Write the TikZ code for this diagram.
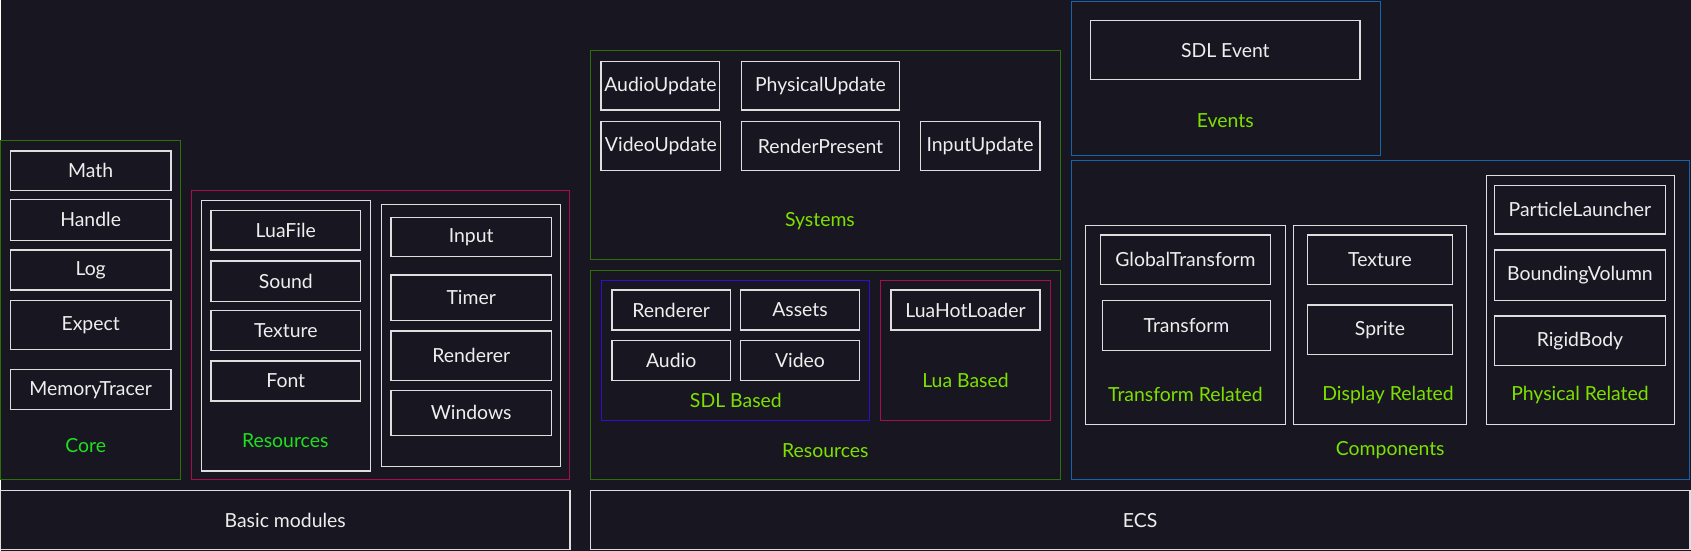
\documentclass[tikz,border=0pt]{standalone}
\usepackage{fontspec}
\setmainfont{Lato}
\usepackage{tikz}
\usetikzlibrary{fit,positioning}
\definecolor{bgdark}{RGB}{24,22,32}
\definecolor{boxline}{RGB}{222,222,222}
\definecolor{boxtext}{RGB}{238,238,238}
\definecolor{grpgreen}{RGB}{45,112,10}
\definecolor{grpred}{RGB}{165,15,75}
\definecolor{grpblue}{RGB}{22,100,170}
\definecolor{grppurple}{RGB}{55,12,200}
\definecolor{lblgreen}{RGB}{30,225,30}
\definecolor{lblyellow}{RGB}{125,225,0}
\tikzset{
  mod_box/.style = {draw=boxline, line width=1.2pt, inner sep=0pt},
  mod_txt/.style = {text=boxtext, inner sep=0pt, font=\fontsize{18}{20}\selectfont},
  grp_box/.style = {draw=boxline, line width=1.2pt, inner sep=0pt},
  grp_g/.style = {draw=grpgreen, line width=1pt, inner sep=0pt},
  grp_r/.style = {draw=grpred, line width=1pt, inner sep=0pt},
  grp_b/.style = {draw=grpblue, line width=1pt, inner sep=0pt},
  grp_p/.style = {draw=grppurple, line width=1pt, inner sep=0pt},
  lbl_g/.style = {text=lblgreen, font=\fontsize{18}{20}\selectfont},
  lbl_y/.style = {text=lblyellow, font=\fontsize{18}{20}\selectfont}
}

\begin{document}
\begin{tikzpicture}[x=1pt, y=-1pt]
  \fill[bgdark] (0,0) rectangle (1568,511);

  % basic modules
  \node[grp_g, fit={(0,130) (167,445)}] (core) {};
  \node[mod_box, fit={(9,140) (158,177)}, label={[mod_txt]center:Math}] (math) {};
  \node[mod_box, fit={(9,185) (158,223)}, label={[mod_txt]center:Handle}] (handle) {};
  \node[mod_box, fit={(9,232) (158,269)}, label={[mod_txt]center:Log}] (log) {};
  \node[mod_box, fit={(9,279) (158,324)}, label={[mod_txt]center:Expect}] (expect) {};
  \node[mod_box, fit={(9,343) (158,380)}, label={[mod_txt]center:MemoryTracer}] (memtracer) {};
  \node[lbl_g] (core_lbl) at (79,413) {Core};

  \node[grp_r, fit={(177,177) (528,445)}] (res) {};
  \node[grp_box, fit={(186,186) (343,437)}] (res_l) {};
  \node[mod_box, fit={(195,195) (334,232)}, label={[mod_txt]center:LuaFile}] (luafile) {};
  \node[mod_box, fit={(195,242) (334,280)}, label={[mod_txt]center:Sound}] (sound) {};
  \node[mod_box, fit={(195,288) (334,325)}, label={[mod_txt]center:Texture}] (texture) {};
  \node[mod_box, fit={(195,335) (334,372)}, label={[mod_txt]center:Font}] (font) {};
  \node[lbl_g] (res_lbl) at (264,409) {Resources};
  \node[grp_box, fit={(353,190) (519,433)}] (res_r) {};
  \node[mod_box, fit={(362,202) (511,238)}, label={[mod_txt]center:Input}] (input) {};
  \node[mod_box, fit={(362,255) (511,297)}, label={[mod_txt]center:Timer}] (timer) {};
  \node[mod_box, fit={(362,307) (511,353)}, label={[mod_txt]center:Renderer}] (renderer) {};
  \node[mod_box, fit={(362,362) (511,404)}, label={[mod_txt]center:Windows}] (windows) {};

  \node[mod_box, fit={(0,455) (528,510)}, label={[mod_txt]center:Basic modules}] (basic) {};

  % ecs
  \node[grp_g, fit={(547,47) (983,241)}] (systems) {};
  \node[mod_box, fit={(557,57) (667,102)}, label={[mod_txt]center:AudioUpdate}] (audio_up) {};
  \node[mod_box, fit={(687,57) (834,102)}, label={[mod_txt]center:PhysicalUpdate}] (phys_up) {};
  \node[mod_box, fit={(557,113) (668,158)}, label={[mod_txt]center:VideoUpdate}] (video_up) {};
  \node[mod_box, fit={(687,113) (834,158)}, label={[mod_txt]center:RenderPresent}] (render_pr) {};
  \node[mod_box, fit={(853,113) (964,158)}, label={[mod_txt]center:InputUpdate}] (input_up) {};
  \node[lbl_y] (sys_lbl) at (760,205) {Systems};

  \node[grp_g, fit={(547,251) (983,445)}] (ecs_res) {};
  \node[grp_p, fit={(557,260) (806,390)}] (sdl) {};
  \node[mod_box, fit={(567,269) (677,306)}, label={[mod_txt]center:Renderer}] (sdl_renderer) {};
  \node[mod_box, fit={(686,269) (797,306)}, label={[mod_txt]center:Assets}] (assets) {};
  \node[mod_box, fit={(567,316) (677,353)}, label={[mod_txt]center:Audio}] (audio) {};
  \node[mod_box, fit={(686,316) (797,353)}, label={[mod_txt]center:Video}] (video) {};
  \node[lbl_y] (sdl_lbl) at (682,371) {SDL Based};
  \node[grp_r, fit={(816,260) (974,390)}] (lua) {};
  \node[mod_box, fit={(826,269) (964,306)}, label={[mod_txt]center:LuaHotLoader}] (hotloader) {};
  \node[lbl_y] (lua_lbl) at (895,353) {Lua Based};
  \node[lbl_y] (ecs_res_lbl) at (765,418) {Resources};

  \node[grp_b, fit={(993,1) (1280,144)}] (events) {};
  \node[mod_box, fit={(1011,19) (1261,74)}, label={[mod_txt]center:SDL Event}] (sdl_event) {};
  \node[lbl_y] (events_lbl) at (1136,112) {Events};

  \node[grp_b, fit={(993,149) (1567,445)}] (comps) {};
  \node[grp_box, fit={(1006,209) (1192,394)}] (tr_grp) {};
  \node[mod_box, fit={(1020,218) (1178,264)}, label={[mod_txt]center:GlobalTransform}] (gtransform) {};
  \node[mod_box, fit={(1022,279) (1178,325)}, label={[mod_txt]center:Transform}] (transform) {};
  \node[lbl_y] (tr_lbl) at (1099,366) {Transform Related};
  \node[grp_box, fit={(1199,209) (1360,394)}] (disp_grp) {};
  \node[mod_box, fit={(1212,218) (1347,264)}, label={[mod_txt]center:Texture}] (comp_texture) {};
  \node[mod_box, fit={(1212,283) (1347,329)}, label={[mod_txt]center:Sprite}] (sprite) {};
  \node[lbl_y] (disp_lbl) at (1287,366) {Display Related};
  \node[grp_box, fit={(1378,163) (1553,394)}] (phys_grp) {};
  \node[mod_box, fit={(1386,172) (1544,217)}, label={[mod_txt]center:ParticleLauncher}] (particle) {};
  \node[mod_box, fit={(1386,232) (1544,279)}, label={[mod_txt]center:BoundingVolumn}] (bounding) {};
  \node[mod_box, fit={(1386,293) (1544,339)}, label={[mod_txt]center:RigidBody}] (rigid) {};
  \node[lbl_y] (phys_lbl) at (1465,366) {Physical Related};
  \node[lbl_y] (comps_lbl) at (1289,418) {Components};

  \node[mod_box, fit={(547,455) (1567,510)}, label={[mod_txt]center:ECS}] (ecs) {};
\end{tikzpicture}
\end{document}
